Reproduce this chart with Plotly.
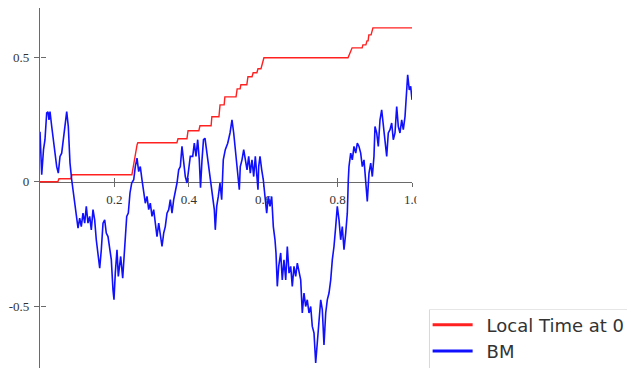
import plotly.graph_objects as go

# Brownian path sampled on [0, 1]
t_bm = [0.0, 0.0046, 0.0094, 0.0134, 0.018, 0.0215, 0.0242, 0.0269, 0.0315, 0.0358,
        0.0403, 0.0449, 0.0492, 0.0538, 0.0583, 0.0626, 0.0672, 0.0718, 0.0761, 0.0806,
        0.0852, 0.0887, 0.0933, 0.0976, 0.1022, 0.1067, 0.111, 0.1156, 0.1202, 0.1245,
        0.129, 0.1336, 0.1379, 0.1425, 0.147, 0.1513, 0.1559, 0.1605, 0.1648, 0.1694,
        0.1739, 0.1782, 0.1828, 0.1874, 0.1917, 0.1962, 0.1989, 0.2024, 0.207, 0.2105,
        0.2169, 0.2223, 0.2285, 0.2331, 0.2374, 0.2419, 0.2465, 0.2519, 0.2562, 0.2608,
        0.2653, 0.2696, 0.2742, 0.2788, 0.2831, 0.2876, 0.2922, 0.2965, 0.3011, 0.3056,
        0.3099, 0.3145, 0.3191, 0.3234, 0.328, 0.3325, 0.3368, 0.3414, 0.346, 0.3503,
        0.3548, 0.3594, 0.3637, 0.3683, 0.3728, 0.3772, 0.3817, 0.3863, 0.3906, 0.3952,
        0.3997, 0.404, 0.4105, 0.4148, 0.4194, 0.4239, 0.4282, 0.4315, 0.4355, 0.4395,
        0.4435, 0.4476, 0.4508, 0.4551, 0.4597, 0.4642, 0.4686, 0.4712, 0.475, 0.4793,
        0.4839, 0.4884, 0.4927, 0.4981, 0.5046, 0.5108, 0.5161, 0.5207, 0.525, 0.5296,
        0.5341, 0.5358, 0.5384, 0.543, 0.5476, 0.5519, 0.5565, 0.561, 0.5653, 0.5699,
        0.5745, 0.5788, 0.5833, 0.586, 0.5879, 0.5914, 0.596, 0.6003, 0.6048, 0.6094,
        0.6137, 0.6183, 0.6228, 0.6272, 0.6317, 0.6344, 0.6379, 0.6417, 0.647, 0.6513,
        0.6559, 0.6605, 0.6648, 0.6694, 0.6739, 0.6782, 0.6828, 0.6874, 0.6917, 0.6962,
        0.7008, 0.7051, 0.7097, 0.7142, 0.7185, 0.7231, 0.7277, 0.732, 0.7366, 0.7411,
        0.7454, 0.75, 0.7546, 0.7589, 0.7634, 0.768, 0.7723, 0.7769, 0.7815, 0.7858,
        0.7903, 0.7949, 0.7992, 0.8038, 0.8083, 0.8126, 0.8172, 0.8218, 0.8261, 0.8288,
        0.8306, 0.8352, 0.8395, 0.8441, 0.8487, 0.853, 0.8575, 0.8621, 0.8664, 0.871,
        0.8755, 0.8798, 0.8844, 0.889, 0.8933, 0.8978, 0.9005, 0.9051, 0.9094, 0.914,
        0.9185, 0.9228, 0.9274, 0.932, 0.9363, 0.9409, 0.9454, 0.9497, 0.9543, 0.9589,
        0.9632, 0.9677, 0.9723, 0.9766, 0.9812, 0.9858, 0.9884, 0.9927, 0.9965, 1.0]
bm = [0.201, 0.028, 0.129, 0.169, 0.277, 0.281, 0.249, 0.282, 0.222, 0.169,
      0.129, 0.061, 0.035, 0.102, 0.115, 0.169, 0.222, 0.282, 0.222, 0.076,
      0.008, -0.032, -0.072, -0.112, -0.186, -0.146, -0.180, -0.126, -0.166, -0.099,
      -0.166, -0.139, -0.193, -0.112, -0.153, -0.233, -0.286, -0.347, -0.273, -0.166,
      -0.153, -0.206, -0.220, -0.260, -0.313, -0.434, -0.474, -0.367, -0.273, -0.380,
      -0.300, -0.387, -0.233, -0.139, -0.126, -0.045, -0.005, 0.008, 0.061, 0.095,
      0.041, 0.061, 0.008, -0.045, -0.086, -0.059, -0.112, -0.086, -0.139, -0.112,
      -0.166, -0.220, -0.166, -0.206, -0.260, -0.206, -0.180, -0.126, -0.112, -0.072,
      -0.126, -0.072, -0.045, -0.005, 0.048, 0.061, 0.142, 0.088, 0.021, -0.005,
      0.061, 0.102, 0.102, 0.155, 0.102, 0.169, 0.088, -0.024, 0.088, 0.169,
      0.175, 0.129, 0.088, 0.048, -0.005, -0.045, -0.112, -0.193, -0.099, -0.059,
      -0.005, -0.072, 0.088, 0.129, 0.155, 0.196, 0.249, 0.196, 0.129, 0.061,
      0.008, -0.032, 0.061, 0.088, 0.129, 0.088, 0.048, 0.102, 0.035, 0.088,
      0.021, 0.102, -0.005, -0.032, 0.061, 0.102, 0.048, 0.008, -0.059, -0.126,
      -0.059, -0.099, -0.059, -0.180, -0.233, -0.286, -0.420, -0.340, -0.286, -0.394,
      -0.313, -0.394, -0.260, -0.367, -0.340, -0.420, -0.340, -0.380, -0.327, -0.367,
      -0.394, -0.527, -0.447, -0.501, -0.474, -0.527, -0.501, -0.581, -0.608, -0.728,
      -0.635, -0.554, -0.474, -0.514, -0.655, -0.527, -0.474, -0.447, -0.394, -0.313,
      -0.260, -0.180, -0.099, -0.153, -0.233, -0.180, -0.273, -0.206, -0.126, 0.008,
      0.061, 0.115, 0.088, 0.142, 0.115, 0.155, 0.142, 0.115, 0.061, 0.088,
      0.008, -0.079, 0.035, 0.075, 0.021, 0.102, 0.222, 0.196, 0.142, 0.249,
      0.289, 0.222, 0.169, 0.102, 0.196, 0.209, 0.236, 0.169, 0.196, 0.302,
      0.222, 0.196, 0.249, 0.209, 0.262, 0.410, 0.430, 0.369, 0.383, 0.329]

# Local time at 0 (non-decreasing staircase)
t_lt = [0.0, 0.048, 0.051, 0.083, 0.086, 0.247, 0.261, 0.263, 0.368, 0.371,
        0.395, 0.398, 0.427, 0.430, 0.460, 0.462, 0.481, 0.484, 0.495, 0.497,
        0.527, 0.530, 0.538, 0.540, 0.556, 0.559, 0.570, 0.573, 0.583, 0.586,
        0.594, 0.602, 0.828, 0.839, 0.866, 0.868, 0.876, 0.879, 0.882, 0.884,
        0.890, 0.895, 1.0]
lt = [0.0, 0.0, 0.012, 0.012, 0.028, 0.028, 0.149, 0.157, 0.157, 0.173,
      0.173, 0.205, 0.205, 0.225, 0.225, 0.261, 0.261, 0.309, 0.309, 0.341,
      0.341, 0.373, 0.373, 0.390, 0.390, 0.422, 0.422, 0.438, 0.438, 0.454,
      0.454, 0.498, 0.498, 0.538, 0.538, 0.550, 0.550, 0.566, 0.566, 0.590,
      0.590, 0.618, 0.618]

x_ticks = [0.2, 0.4, 0.6, 0.8, 1.0]
x_ticktext = ["0.2", "0.4", "0.6", "0.8", "1.0"]
y_ticks = [-0.5, 0, 0.5]
y_ticktext = ["-0.5", "0", "0.5"]

RED = "#ff2020"
BLUE = "#1010ff"
AXIS = "#6a6a6a"
Y_RANGE = [-0.748, 0.698]
X_RANGE = [0, 1]
x_axis_pos = -Y_RANGE[0] / (Y_RANGE[1] - Y_RANGE[0])

fig = go.Figure()
fig.add_trace(go.Scatter(x=t_lt, y=lt, mode="lines", line=dict(color=RED, width=1.4),
                         showlegend=False, hoverinfo="skip"))
fig.add_trace(go.Scatter(x=t_bm, y=bm, mode="lines", line=dict(color=BLUE, width=1.6),
                         showlegend=False, hoverinfo="skip"))
# legend entries with heavier sample lines
fig.add_trace(go.Scatter(x=[None], y=[None], mode="lines", name="\u2002Local Time at 0",
                         line=dict(color=RED, width=3)))
fig.add_trace(go.Scatter(x=[None], y=[None], mode="lines", name="\u2002BM",
                         line=dict(color=BLUE, width=3)))
# companion axes that draw the inner half of each crossing tick
fig.add_trace(go.Scatter(x=[None], y=[None], xaxis="x2", yaxis="y2",
                         showlegend=False, hoverinfo="skip"))

tick_font = dict(family="Liberation Serif", size=13, color="#333333")

fig.update_layout(
    width=627, height=368,
    margin=dict(l=40, r=215, t=8, b=0, autoexpand=False),
    paper_bgcolor="white", plot_bgcolor="white",
    xaxis=dict(range=X_RANGE, anchor="free", position=x_axis_pos,
               showgrid=False, zeroline=False, showline=True, linecolor=AXIS, linewidth=1.2,
               ticks="outside", ticklen=4, tickwidth=1, tickcolor=AXIS,
               tickvals=x_ticks, ticktext=x_ticktext, tickfont=tick_font,
               ticklabelstandoff=2,
               layer="below traces", automargin=False),
    yaxis=dict(range=Y_RANGE, showgrid=False, zeroline=False, showline=True,
               linecolor=AXIS, linewidth=1.2,
               ticks="outside", ticklen=5, tickwidth=1, tickcolor=AXIS,
               tickvals=y_ticks, ticktext=y_ticktext, tickfont=tick_font,
               ticklabelstandoff=2,
               layer="below traces", automargin=False),
    xaxis2=dict(range=X_RANGE, overlaying="x", anchor="free", position=x_axis_pos,
                showgrid=False, zeroline=False, showline=False,
                ticks="inside", ticklen=4, tickwidth=1, tickcolor=AXIS,
                tickvals=x_ticks, showticklabels=False, layer="below traces"),
    yaxis2=dict(range=Y_RANGE, overlaying="y", anchor="free", position=0,
                showgrid=False, zeroline=False, showline=False,
                ticks="inside", ticklen=5, tickwidth=1, tickcolor=AXIS,
                tickvals=y_ticks, showticklabels=False, layer="below traces"),
    legend=dict(x=1.042, y=0.171, xanchor="left", yanchor="top",
                font=dict(family="DejaVu Sans", size=18, color="#333333"),
                bgcolor="rgba(0,0,0,0)", borderwidth=0, itemwidth=40,
                tracegroupgap=0),
    shapes=[
        # blank strip right of the plotting region
        dict(type="rect", xref="paper", yref="paper", x0=1.012, x1=1.7, y0=0.17, y1=1.1,
             fillcolor="white", line=dict(width=0), layer="above"),
        # legend frame edges
        dict(type="line", xref="paper", yref="paper", x0=1.047, x1=1.047, y0=-0.01, y1=0.1625,
             line=dict(color="#d8d8d8", width=1), layer="above"),
        dict(type="line", xref="paper", yref="paper", x0=1.047, x1=1.7, y0=0.1625, y1=0.1625,
             line=dict(color="#e6e6e6", width=1), layer="above"),
    ],
)

fig.write_html("out.html")
